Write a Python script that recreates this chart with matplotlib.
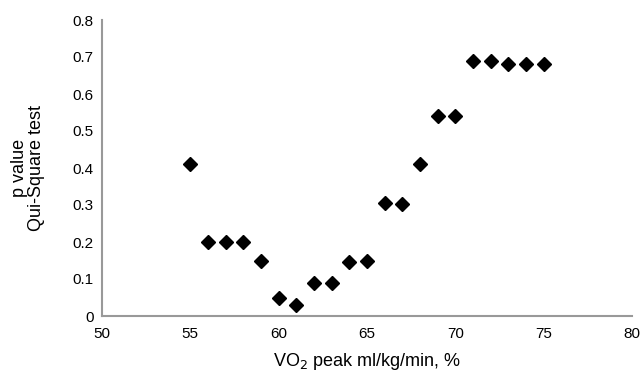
import matplotlib
matplotlib.use('Agg')
import matplotlib.pyplot as plt

plt.rcParams['font.family'] = ['Liberation Sans', 'DejaVu Sans']

# VO2 peak (%) vs p value of chi-square test
vo2 = [55, 56, 57, 58, 59, 60, 61, 62, 63, 64, 65, 66, 67, 68, 69, 70, 71, 72, 73, 74, 75]
pval = [0.41, 0.20, 0.20, 0.20, 0.15, 0.05, 0.03, 0.09, 0.09, 0.145, 0.15,
        0.306, 0.302, 0.41, 0.54, 0.54, 0.69, 0.69, 0.68, 0.68, 0.68]

xticks = [50, 55, 60, 65, 70, 75, 80]
yticks = [0, 0.1, 0.2, 0.3, 0.4, 0.5, 0.6, 0.7, 0.8]
ylabels = ['0', '0.1', '0.2', '0.3', '0.4', '0.5', '0.6', '0.7', '0.8']

fig = plt.figure(figsize=(6.43, 3.82), dpi=100)
ax = fig.add_axes([102/643, 1 - 316/382, 530/643, 296/382])

ax.plot(vo2, pval, 'D', color='black', markersize=7, clip_on=False)

ax.set_xlim(50, 80)
ax.set_ylim(0, 0.8)
ax.set_xticks(xticks)
ax.set_xticklabels([str(t) for t in xticks])
ax.set_yticks(yticks)
ax.set_yticklabels(ylabels)
ax.tick_params(length=0, labelsize=11)
ax.tick_params(axis='x', pad=8)
ax.tick_params(axis='y', pad=6)

for s in ['top', 'right']:
    ax.spines[s].set_visible(False)
for s in ['left', 'bottom']:
    ax.spines[s].set_color('#999999')
    ax.spines[s].set_linewidth(1.5)

ax.set_xlabel('VO$_2$ peak ml/kg/min, %', fontsize=13, labelpad=7)
ax.set_ylabel('p value\nQui-Square test', fontsize=13, labelpad=20, linespacing=1.0)

fig.savefig('out.png', dpi=100)
